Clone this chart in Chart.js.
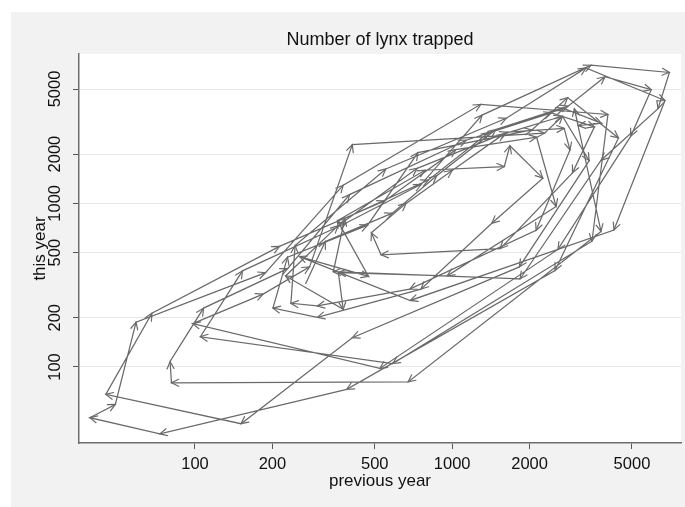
<!DOCTYPE html>
<html>
<head>
	<title>Number of lynx trapped</title>
	<script src="https://cdn.jsdelivr.net/npm/chart.js@4.4.1/dist/chart.umd.min.js"></script>
	<style>
		html, body {margin: 0; padding: 0; background: #fff;}
		#wrap {position: absolute; left: 11px; top: 12px; width: 674px; height: 495px; background: #f2f2f2;}
	</style>
</head>
<body>

<div id="wrap">
	<canvas id="myChart" width="674" height="495"></canvas>
</div>

<script>
// annual lynx trappings, first value is 1821
var firstYear = 1821;
var trapped = [269, 321, 585, 871, 1475, 2821, 3928, 5943, 4950, 2577, 523, 98, 184, 279, 409, 2285,
	2685, 3409, 1824, 409, 151, 45, 68, 213, 546, 1033, 2129, 2536, 957, 361, 377, 225, 360, 731, 1638,
	2725, 2871, 2119, 684, 299, 236, 245, 552, 1623, 3311, 6721, 4254, 687, 255, 473, 358, 784, 1594,
	1676, 2251, 1426, 756, 299, 201, 229, 469, 736, 2042, 2811, 4431, 2511, 389, 73, 39, 49, 59, 188,
	377, 1292, 4031, 3495, 587, 105, 153, 387, 758, 1307, 3465, 6991, 6313, 3794, 1836, 345, 382, 808,
	1388, 2713, 3800, 3091, 2985, 3790, 674, 81, 80, 108, 229, 399, 1132, 2432, 3574, 2935, 1537, 529,
	485, 662, 1000, 1590, 2657, 3396];
var xTicks = [100, 200, 500, 1000, 2000, 5000];
var yTicks = [100, 200, 500, 1000, 2000, 5000];

// pair each year with the one before it
var points = [];
for (var i = 1; i < trapped.length; i++) {
	points.push({x: trapped[i - 1], y: trapped[i], year: firstYear + i});
}

var fontFamily = "'Liberation Sans', Arial, Helvetica, sans-serif";
var lineColor = '#6a6a6a';

var plotBackground = {
	id: 'plotBackground',
	beforeDraw: function(chart) {
		var a = chart.chartArea;
		var ctx = chart.ctx;
		ctx.save();
		ctx.fillStyle = '#ffffff';
		ctx.fillRect(a.left, a.top, a.right - a.left, a.bottom - a.top);
		ctx.restore();
	}
};

// open arrow heads at the end of every step
var arrowHeads = {
	id: 'arrowHeads',
	afterDatasetsDraw: function(chart) {
		var ctx = chart.ctx;
		var els = chart.getDatasetMeta(0).data;
		var len = 8, spread = 0.45;
		ctx.save();
		ctx.strokeStyle = lineColor;
		ctx.lineWidth = 1.2;
		ctx.lineCap = 'round';
		for (var i = 1; i < els.length; i++) {
			var p = els[i - 1], q = els[i];
			var ang = Math.atan2(q.y - p.y, q.x - p.x);
			ctx.beginPath();
			ctx.moveTo(q.x - len * Math.cos(ang - spread), q.y - len * Math.sin(ang - spread));
			ctx.lineTo(q.x, q.y);
			ctx.lineTo(q.x - len * Math.cos(ang + spread), q.y - len * Math.sin(ang + spread));
			ctx.stroke();
		}
		ctx.restore();
	}
};

var ctx = document.getElementById('myChart').getContext('2d');
var chart = new Chart(ctx, {
	type: 'scatter',
	data: {
		datasets: [{
			label: 'lynx',
			data: points,
			showLine: true,
			borderColor: lineColor,
			borderWidth: 1.25,
			pointRadius: 0,
			tension: 0
		}]
	},
	options: {
		responsive: false,
		animation: false,
		layout: {padding: {left: 0, right: 4, top: 0, bottom: 0}},
		plugins: {
			legend: {display: false},
			tooltip: {enabled: false},
			title: {
				display: true,
				text: 'Number of lynx trapped',
				fullSize: false,
				color: '#111',
				font: {family: fontFamily, size: 18, weight: 'normal'},
				padding: {top: 17, bottom: 3.4}
			}
		},
		scales: {
			x: {
				type: 'logarithmic',
				min: 35.4,
				max: 7756,
				afterBuildTicks: function(s) { s.ticks = xTicks.map(function(v) { return {value: v}; }); },
				afterFit: function(s) { s.height = 64; },
				grid: {drawOnChartArea: false, tickLength: 6, tickColor: '#555', tickWidth: 1},
				border: {color: '#6e6e6e', width: 1.5},
				ticks: {
					autoSkip: false, maxRotation: 0, padding: 6, color: '#111',
					font: {family: fontFamily, size: 16.5},
					callback: function(v) { return String(v); }
				},
				title: {
					display: true, text: 'previous year', color: '#111',
					font: {family: fontFamily, size: 17},
					padding: {top: 0, bottom: 15}
				}
			},
			y: {
				type: 'logarithmic',
				min: 34.3,
				max: 8185,
				afterBuildTicks: function(s) { s.ticks = yTicks.map(function(v) { return {value: v}; }); },
				afterFit: function(s) { s.width = 68; },
				grid: {color: '#e6e6e6', lineWidth: 1, tickLength: 6, tickColor: '#555', tickWidth: 1},
				border: {color: '#6e6e6e', width: 1.5},
				ticks: {
					autoSkip: false, minRotation: 90, maxRotation: 90, crossAlign: 'center',
					padding: -1, color: '#111',
					font: {family: fontFamily, size: 16.5},
					callback: function(v) { return String(v); }
				},
				title: {
					display: true, text: 'this year', color: '#111',
					font: {family: fontFamily, size: 17},
					padding: {top: 19, bottom: 0}
				}
			}
		}
	},
	plugins: [plotBackground, arrowHeads]
});
</script>

</body>
</html>
